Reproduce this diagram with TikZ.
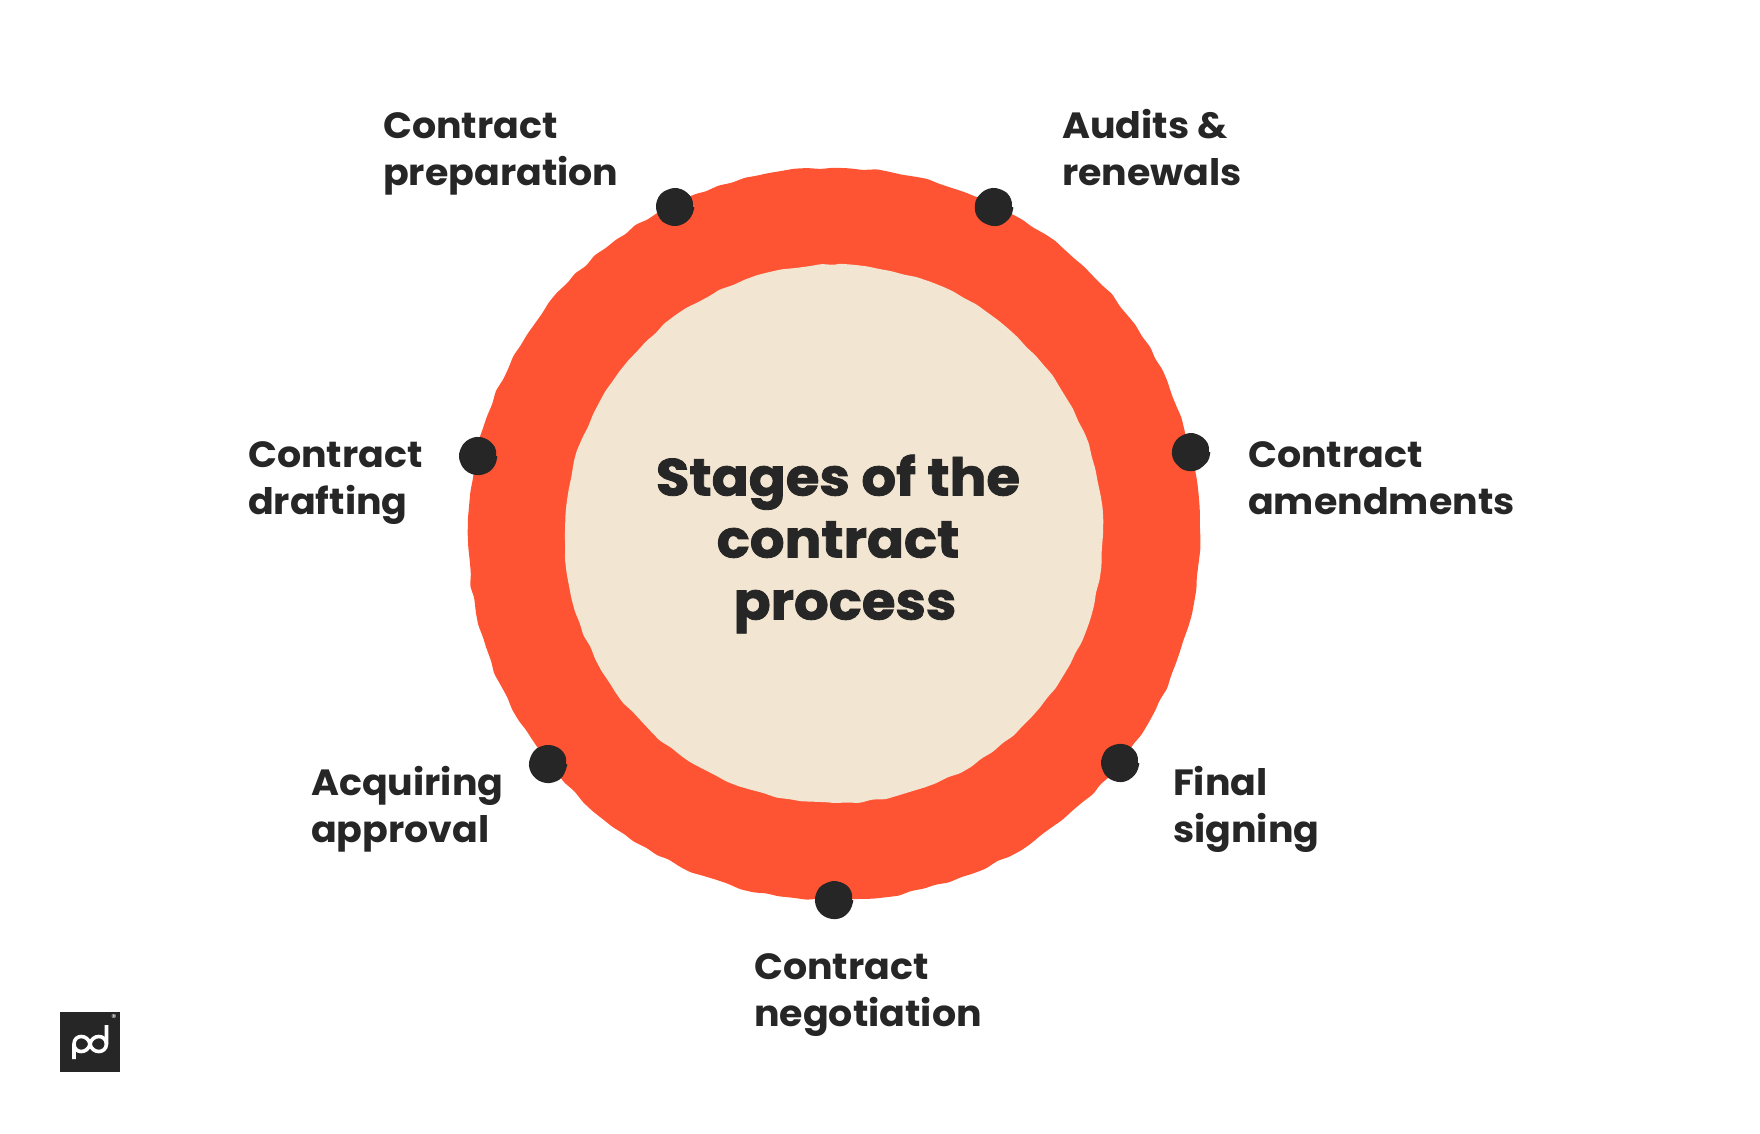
\documentclass[tikz,border=0pt]{standalone}
\usepackage{fontspec}
\setmainfont{Poppins}[BoldFeatures={FakeStretch=1.04}]
\newfontfamily\heavyfont{Poppins}[BoldFeatures={FakeBold=1.6,FakeStretch=1.05}]
\usetikzlibrary{positioning}
\usetikzlibrary{decorations.pathmorphing}
\definecolor{rosso}{RGB}{255,84,51}
\definecolor{sabbia}{RGB}{242,230,211}
\definecolor{nero}{RGB}{38,38,38}
\tikzstyle{stages chart}=[
x=1pt,y=-1pt,
ring/.style={fill=rosso,rounded corners=2.5pt,decorate,decoration={random steps,segment length=13pt,amplitude=1.3pt}},
core/.style={fill=sabbia,rounded corners=2.5pt,decorate,decoration={random steps,segment length=13pt,amplitude=1.1pt}},
stage dot/.style={circle,fill=nero,inner sep=0pt,minimum size=36pt,rounded corners=2pt,decorate,decoration={random steps,segment length=7pt,amplitude=.4pt}},
stage label/.style={anchor=west,align=left,inner sep=0pt,text=nero,font={\fontsize{36.5}{47.8}\selectfont\bfseries}},
core title/.style={align=center,inner sep=0pt,text=nero,font={\heavyfont\fontsize{52}{62}\selectfont\bfseries}},
logo line/.style={draw=white,line width=3.6pt,line cap=butt}
]
\newcommand{\stage}[7]{
	\node[stage dot] (dot#1) at (#2,#3) {};
	\node[stage label] (label#1) at (#4,#5) {\rule{0pt}{34pt}#6\\#7\rule[-12pt]{0pt}{12pt}};
}
\begin{document}
\begin{tikzpicture}[stages chart]
	\useasboundingbox (0,0) rectangle (1760,1133);
	\pgfmathsetseed{11}
	
	\coordinate (centre) at (834,534);
	\path[ring] (centre) circle[radius=366pt];
	\path[core] (centre) circle[radius=269pt];
	\node[core title] (title) at (838,544) {Stages of the\\contract\\\hspace*{14pt}process};
	
	\stage{Prep}{675}{207}{383}{151}{Contract}{preparation}
	\stage{Audit}{994}{207}{1062}{151}{Audits \&}{renewals}
	\stage{Amend}{1191}{452}{1248}{480}{Contract}{amendments}
	\stage{Sign}{1120}{763}{1173}{808}{Final}{signing}
	\stage{Nego}{834}{900}{754}{992}{Contract}{negotiation}
	\stage{Appr}{548}{764}{311}{808}{Acquiring}{approval}
	\stage{Draft}{478}{456}{248}{480}{Contract}{drafting}
	
	% logo
	\fill[nero] (60,1012) rectangle (120,1072);
	\draw[logo line] (74,1059) -- (74,1044) .. controls (74,1034) and (88,1034) .. (90,1044) .. controls (92,1054) and (106,1054) .. (106.5,1044) -- (106.5,1025);
	\draw[logo line] (74,1044) .. controls (74,1054) and (88,1054) .. (90,1044) .. controls (92,1034) and (106,1034) .. (106.5,1044);
	\node[text=white,font={\fontsize{10}{10}\selectfont},inner sep=0pt] (regmark) at (114,1018) {®};
\end{tikzpicture}
\end{document}
